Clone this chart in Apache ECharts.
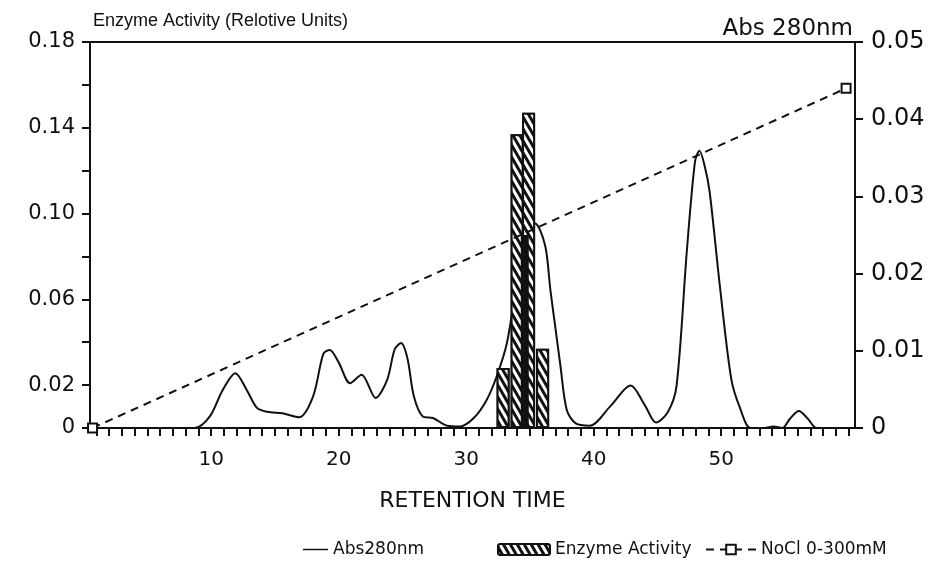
<!DOCTYPE html>
<html lang="en">
<head>
  <meta charset="UTF-8">
  <title>Enzyme Activity / Abs 280nm</title>
  <style>
    html, body { margin: 0; padding: 0; background: #fff; }
    #main { width: 934px; height: 582px; }
  </style>
</head>
<body>
  <div id="main"></div>
  <script src="https://cdn.jsdelivr.net/npm/echarts@6/dist/echarts.min.js"></script>
  <script>
    // retention time ticks / labels
    var xLabels = [10, 20, 30, 40, 50];
    var leftLabels = [0, 0.02, 0.06, 0.10, 0.14, 0.18];

    // Abs 280nm trace: [retention time, absorbance]
    var absData = [
      [1, 0], [8.7, 0], [9.9, 0.0015], [10.9, 0.0049], [11.9, 0.0071], [12.8, 0.0049],
      [13.6, 0.0026], [14.4, 0.0021], [15.6, 0.0019], [16.9, 0.0014], [18.0, 0.0041],
      [18.8, 0.0096], [19.3, 0.0101], [20.0, 0.0085], [20.9, 0.0058], [21.8, 0.0069],
      [22.9, 0.0039], [23.8, 0.0062], [24.4, 0.0102], [24.9, 0.0110], [25.4, 0.0090],
      [25.9, 0.0041], [26.6, 0.0015], [27.4, 0.0013], [28.5, 0.0003], [29.5, 0.0002],
      [30.6, 0.0013], [31.6, 0.0036], [32.4, 0.0067], [33.2, 0.0110], [34.0, 0.0190],
      [34.8, 0.0255], [35.4, 0.0265], [36.2, 0.0236], [36.6, 0.0180], [37.0, 0.0130],
      [37.4, 0.0080], [37.9, 0.0023], [38.6, 0.0006], [39.7, 0.0003], [41.3, 0.0028],
      [42.9, 0.0055], [44.0, 0.0030], [44.9, 0.0007], [45.8, 0.0020], [46.5, 0.0054],
      [47.3, 0.0227], [47.95, 0.0345], [48.3, 0.0359], [48.7, 0.0340], [49.1, 0.0306],
      [49.9, 0.0184], [50.8, 0.0063], [51.5, 0.0025], [52.3, 0], [53.4, 0], [54.1, 0.0002],
      [54.8, 0], [55.4, 0.0012], [56.1, 0.0022], [56.8, 0.0012], [57.5, 0], [60, 0]
    ];

    // enzyme activity fractions
    var enzymeX = [32.9, 34.0, 34.9, 36.0];
    var enzymeVal = [0.028, 0.137, 0.147, 0.037];
    // dark overlap between the two tallest fractions
    var overlapX = [34.6];
    var overlapVal = [0.09];

    // NaCl gradient 0-300mM (plotted on the right scale)
    var naclData = [[0.7, 0], [59.8, 0.044]];

    var font = 'DejaVu Sans';
    var textFont = 'Liberation Sans';
    var black = '#111';

    var xTicks = [];
    for (var i = 1; i <= 60; i++) xTicks.push(i);

    var chart = echarts.init(document.getElementById('main'));

    var legendText = { fontFamily: font, fontSize: 17, color: black };

    var option = {
      animation: false,
      title: [{
        text: 'Enzyme Activity (Relotive Units)',
        left: 88, top: 7,
        textStyle: { fontFamily: textFont, fontSize: 18, fontWeight: 'normal', color: black }
      }, {
        text: 'Abs 280nm',
        right: 76, top: 13,
        textStyle: { fontFamily: font, fontSize: 23, fontWeight: 'normal', color: black }
      }],
      legend: [{
        left: 298, top: 536, itemWidth: 25, itemHeight: 12,
        textStyle: legendText,
        data: [{ name: 'Abs280nm', icon: 'path://M0,0 H25 V1.5 H0 Z' }]
      }, {
        left: 492, top: 536, itemWidth: 52, itemHeight: 11,
        textStyle: legendText,
        data: ['Enzyme Activity']
      }, {
        left: 700, top: 536, itemWidth: 50, itemHeight: 12,
        textStyle: legendText,
        data: ['NoCl 0-300mM']
      }],
      grid: {
        left: 90, right: 79, top: 42, bottom: 154,
        show: true, borderColor: black, borderWidth: 2, backgroundColor: 'transparent'
      },
      xAxis: [{
        type: 'value', min: 0.5, max: 60.5,
        name: 'RETENTION TIME', nameLocation: 'middle', nameGap: 62,
        nameTextStyle: { fontFamily: font, fontSize: 22, color: black },
        splitLine: { show: false },
        axisLine: { lineStyle: { color: black, width: 2 } },
        axisTick: { customValues: xTicks, length: 8, lineStyle: { color: black, width: 2 } },
        axisLabel: {
          customValues: xLabels, margin: 22,
          fontFamily: font, fontSize: 20, color: black
        }
      }, {
        type: 'value', min: 0.5, max: 60.5, show: false
      }],
      yAxis: [{
        type: 'value', min: 0, max: 0.18, interval: 0.02, position: 'left',
        splitLine: { show: false },
        axisLine: { show: true, lineStyle: { color: black, width: 2 } },
        axisTick: { show: true, length: 8, lineStyle: { color: black, width: 2 } },
        axisLabel: {
          customValues: leftLabels, margin: 15,
          fontFamily: font, fontSize: 21, color: black,
          formatter: function (v) { return v === 0 ? '0' : v.toFixed(2); }
        }
      }, {
        type: 'value', min: 0, max: 0.05, interval: 0.01, position: 'right',
        splitLine: { show: false },
        axisLine: { show: true, lineStyle: { color: black, width: 2 } },
        axisTick: { show: true, length: 8, lineStyle: { color: black, width: 2 } },
        axisLabel: {
          margin: 16, fontFamily: font, fontSize: 24, color: black,
          formatter: function (v) { return v === 0 ? '0' : v.toFixed(2); }
        }
      }],
      series: [{
        name: 'Abs280nm',
        type: 'line',
        yAxisIndex: 1,
        smooth: 0.3,
        symbol: 'none',
        lineStyle: { color: black, width: 2 },
        itemStyle: { color: black },
        data: absData,
        z: 2
      }, {
        name: 'Enzyme Activity',
        type: 'bar',
        yAxisIndex: 0,
        barWidth: 13,
        itemStyle: {
          color: '#fff', borderColor: black, borderWidth: 2,
          decal: {
            symbol: 'rect', symbolSize: 1, color: black, backgroundColor: '#fff',
            dashArrayX: [1, 0], dashArrayY: [3, 3], rotation: Math.PI / 3
          }
        },
        data: enzymeX.map(function (x, i) { return [x, enzymeVal[i]]; }),
        z: 3
      }, {
        name: 'overlap',
        type: 'bar',
        xAxisIndex: 1,
        yAxisIndex: 0,
        barWidth: 8,
        itemStyle: { color: black },
        data: overlapX.map(function (x, i) { return [x, overlapVal[i]]; }),
        z: 4
      }, {
        name: 'NoCl 0-300mM',
        type: 'line',
        yAxisIndex: 1,
        symbol: 'emptyRect',
        symbolSize: 9,
        lineStyle: { color: black, width: 2, type: [8, 6] },
        itemStyle: { color: black, borderWidth: 1.5 },
        data: naclData,
        z: 5
      }]
    };

    chart.setOption(option);
  </script>
</body>
</html>
